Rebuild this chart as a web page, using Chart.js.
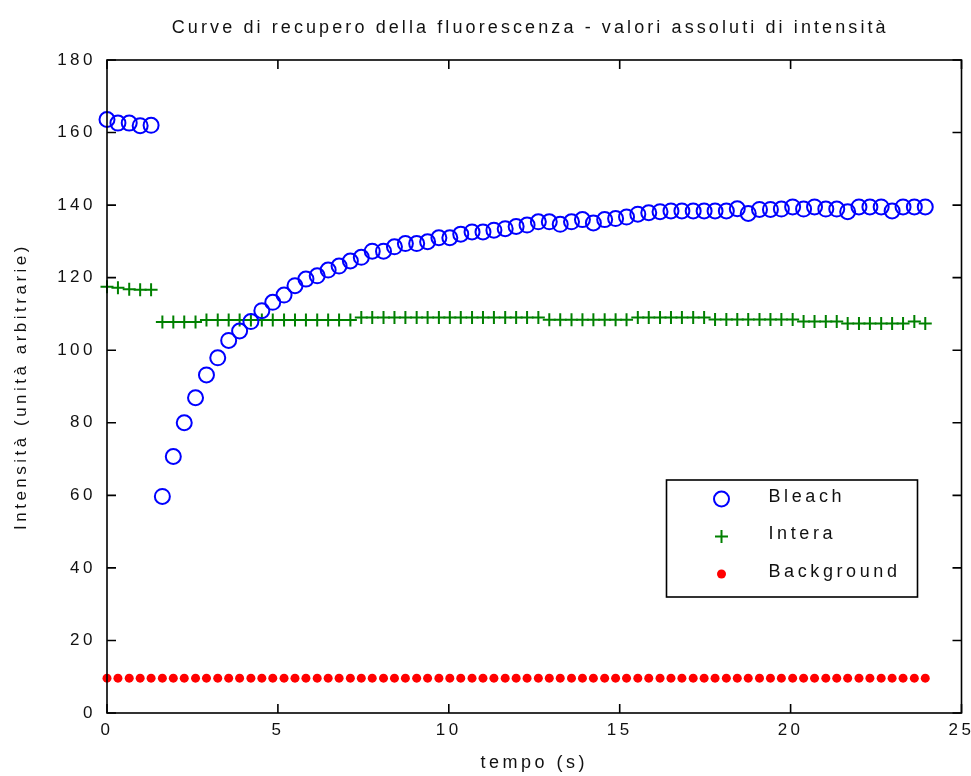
<!DOCTYPE html>
<html>
<head>
<meta charset="utf-8">
<script src="https://cdn.jsdelivr.net/npm/chart.js@4.4.0/dist/chart.umd.min.js"></script>
<style>
  html, body { margin: 0; padding: 0; background: #fff; }
</style>
</head>
<body>
<canvas id="recoveryChart" width="971" height="776"></canvas>
<script>
// time of each frame (s)
var times = [
  0.00, 0.32, 0.65, 0.97, 1.29, 1.62, 1.94, 2.26, 2.59, 2.91,
  3.24, 3.56, 3.88, 4.21, 4.53, 4.85, 5.18, 5.50, 5.82, 6.15,
  6.47, 6.79, 7.12, 7.44, 7.76, 8.09, 8.41, 8.73, 9.06, 9.38,
  9.71, 10.03, 10.35, 10.68, 11.00, 11.32, 11.65, 11.97, 12.29, 12.62,
  12.94, 13.26, 13.59, 13.91, 14.23, 14.56, 14.88, 15.20, 15.53, 15.85,
  16.18, 16.50, 16.82, 17.15, 17.47, 17.79, 18.12, 18.44, 18.76, 19.09,
  19.41, 19.73, 20.06, 20.38, 20.70, 21.03, 21.35, 21.67, 22.00, 22.32,
  22.65, 22.97, 23.29, 23.62, 23.94
];

var bleach = [
  163.6, 162.6, 162.6, 161.9, 162.0, 59.7, 70.7, 80.0, 86.9, 93.2,
  97.9, 102.7, 105.3, 107.9, 110.9, 113.2, 115.2, 117.8, 119.6, 120.5,
  122.1, 123.2, 124.6, 125.6, 127.3, 127.3, 128.5, 129.4, 129.4, 129.9,
  131.0, 131.0, 132.0, 132.6, 132.6, 133.1, 133.5, 134.1, 134.5, 135.4,
  135.4, 134.7, 135.4, 136.0, 135.1, 136.0, 136.3, 136.7, 137.5, 137.9,
  138.2, 138.4, 138.4, 138.4, 138.4, 138.4, 138.4, 139.0, 137.7, 138.8,
  138.8, 138.9, 139.5, 138.9, 139.5, 138.9, 138.9, 138.2, 139.5, 139.5,
  139.5, 138.4, 139.5, 139.5, 139.5
];

var intera = [
  117.5, 117.2, 116.8, 116.7, 116.7, 107.8, 107.8, 107.8, 107.8, 108.3,
  108.3, 108.3, 108.3, 108.3, 108.3, 108.3, 108.3, 108.3, 108.3, 108.3,
  108.3, 108.3, 108.3, 109.0, 109.0, 109.0, 109.0, 109.0, 109.0, 109.0,
  109.0, 109.0, 109.0, 109.0, 109.0, 109.0, 109.0, 109.0, 109.0, 109.0,
  108.4, 108.4, 108.4, 108.4, 108.4, 108.4, 108.4, 108.4, 109.0, 109.0,
  109.0, 109.0, 109.0, 109.0, 109.0, 108.5, 108.5, 108.5, 108.5, 108.5,
  108.5, 108.5, 108.5, 107.9, 107.9, 107.9, 107.9, 107.4, 107.4, 107.4,
  107.4, 107.4, 107.4, 107.9, 107.4
];

var background = [
  9.6, 9.6, 9.6, 9.6, 9.6, 9.6, 9.6, 9.6, 9.6, 9.6,
  9.6, 9.6, 9.6, 9.6, 9.6, 9.6, 9.6, 9.6, 9.6, 9.6,
  9.6, 9.6, 9.6, 9.6, 9.6, 9.6, 9.6, 9.6, 9.6, 9.6,
  9.6, 9.6, 9.6, 9.6, 9.6, 9.6, 9.6, 9.6, 9.6, 9.6,
  9.6, 9.6, 9.6, 9.6, 9.6, 9.6, 9.6, 9.6, 9.6, 9.6,
  9.6, 9.6, 9.6, 9.6, 9.6, 9.6, 9.6, 9.6, 9.6, 9.6,
  9.6, 9.6, 9.6, 9.6, 9.6, 9.6, 9.6, 9.6, 9.6, 9.6,
  9.6, 9.6, 9.6, 9.6, 9.6
];

var seriesNames = ['Bleach', 'Intera', 'Background'];
var chartTitle = 'Curve di recupero della fluorescenza - valori assoluti di intensità';
var xTitle = 'tempo (s)';
var yTitle = 'Intensità (unità arbitrarie)';

var FONT = "'Liberation Sans', Arial, sans-serif";
var SPACING = '3.5px';

function toPoints(vals) {
  return vals.map(function (v, i) { return { x: times[i], y: v }; });
}

// canvas letter spacing, reset whenever the canvas state may be lost
var spacingPlugin = {
  id: 'spacing',
  beforeLayout: function (chart) { chart.ctx.letterSpacing = SPACING; },
  beforeDraw: function (chart) { chart.ctx.letterSpacing = SPACING; }
};

// matlab-style box with inward ticks on all four sides
var boxPlugin = {
  id: 'box',
  afterDatasetsDraw: function (chart) {
    var ctx = chart.ctx, a = chart.chartArea;
    var xs = chart.scales.x, ys = chart.scales.y;
    ctx.save();
    ctx.strokeStyle = '#000';
    ctx.lineWidth = 1.6;
    ctx.strokeRect(a.left, a.top, a.right - a.left, a.bottom - a.top);
    ctx.beginPath();
    xs.ticks.forEach(function (t) {
      var px = xs.getPixelForValue(t.value);
      ctx.moveTo(px, a.bottom); ctx.lineTo(px, a.bottom - 9);
      ctx.moveTo(px, a.top); ctx.lineTo(px, a.top + 9);
    });
    ys.ticks.forEach(function (t) {
      var py = ys.getPixelForValue(t.value);
      ctx.moveTo(a.left, py); ctx.lineTo(a.left + 9, py);
      ctx.moveTo(a.right, py); ctx.lineTo(a.right - 9, py);
    });
    ctx.stroke();
    ctx.restore();
  }
};

// title and boxed legend
var decoPlugin = {
  id: 'deco',
  afterDraw: function (chart) {
    var ctx = chart.ctx, a = chart.chartArea;
    var ds = chart.data.datasets;
    ctx.save();
    ctx.fillStyle = '#111';
    ctx.font = '18px ' + FONT;
    ctx.letterSpacing = '3.1px';
    ctx.textAlign = 'center';
    ctx.textBaseline = 'middle';
    ctx.fillText(chartTitle, (a.left + a.right) / 2 - 4, 28);

    // legend box
    var bw = 251, bh = 117;
    var bx = a.right - 44 - bw, by = a.bottom - 116 - bh;
    ctx.fillStyle = '#fff';
    ctx.fillRect(bx, by, bw, bh);
    ctx.strokeStyle = '#000';
    ctx.lineWidth = 1.6;
    ctx.strokeRect(bx, by, bw, bh);

    ctx.letterSpacing = '3.6px';
    ctx.textAlign = 'left';
    ds.forEach(function (d, i) {
      var cy = by + 19 + i * 37.5;
      var mx = bx + 55;
      ctx.strokeStyle = d.borderColor;
      ctx.fillStyle = d.backgroundColor;
      ctx.lineWidth = d.borderWidth;
      ctx.beginPath();
      if (d.pointStyle === 'cross') {
        ctx.moveTo(mx - d.pointRadius, cy); ctx.lineTo(mx + d.pointRadius, cy);
        ctx.moveTo(mx, cy - d.pointRadius); ctx.lineTo(mx, cy + d.pointRadius);
        ctx.stroke();
      } else {
        ctx.arc(mx, cy, d.pointRadius, 0, Math.PI * 2);
        if (d.borderWidth > 0) ctx.stroke();
        ctx.fill();
      }
      ctx.fillStyle = '#111';
      ctx.fillText(d.label, bx + 102, cy - 2);
    });
    ctx.restore();
  }
};

new Chart(document.getElementById('recoveryChart').getContext('2d'), {
  type: 'scatter',
  data: {
    datasets: [{
      label: seriesNames[0],
      data: toPoints(bleach),
      pointStyle: 'circle',
      pointRadius: 7.5,
      borderWidth: 2,
      borderColor: '#0000ff',
      backgroundColor: 'rgba(0,0,0,0)',
      clip: false
    }, {
      label: seriesNames[1],
      data: toPoints(intera),
      pointStyle: 'cross',
      pointRadius: 6.5,
      borderWidth: 2,
      borderColor: '#008000',
      backgroundColor: '#008000',
      clip: false
    }, {
      label: seriesNames[2],
      data: toPoints(background),
      pointStyle: 'circle',
      pointRadius: 4.5,
      borderWidth: 0,
      borderColor: '#ff0000',
      backgroundColor: '#ff0000',
      clip: false
    }]
  },
  options: {
    responsive: false,
    devicePixelRatio: 1,
    animation: false,
    events: [],
    layout: { padding: { top: 60, right: 8, bottom: 0, left: 0 } },
    plugins: {
      legend: { display: false },
      title: { display: false },
      tooltip: { enabled: false }
    },
    scales: {
      x: {
        type: 'linear',
        min: 0,
        max: 25,
        grid: { display: false, drawTicks: false },
        border: { display: false },
        ticks: {
          stepSize: 5,
          padding: 7,
          color: '#111',
          font: { family: FONT, size: 17 }
        },
        title: {
          display: true,
          text: xTitle,
          color: '#111',
          padding: { top: 0, bottom: 2 },
          font: { family: FONT, size: 18 }
        },
        afterFit: function (scale) {
          scale.height = 63;
          scale.paddingLeft = 0;
          scale.paddingRight = 0;
        }
      },
      y: {
        min: 0,
        max: 180,
        grid: { display: false, drawTicks: false },
        border: { display: false },
        ticks: {
          stepSize: 20,
          padding: 11,
          color: '#111',
          font: { family: FONT, size: 17 }
        },
        title: {
          display: true,
          text: yTitle,
          color: '#111',
          padding: { top: 11, bottom: 0 },
          font: { family: FONT, size: 17 }
        },
        afterFit: function (scale) {
          scale.width = 107;
        }
      }
    }
  },
  plugins: [spacingPlugin, boxPlugin, decoPlugin]
});
</script>
</body>
</html>
